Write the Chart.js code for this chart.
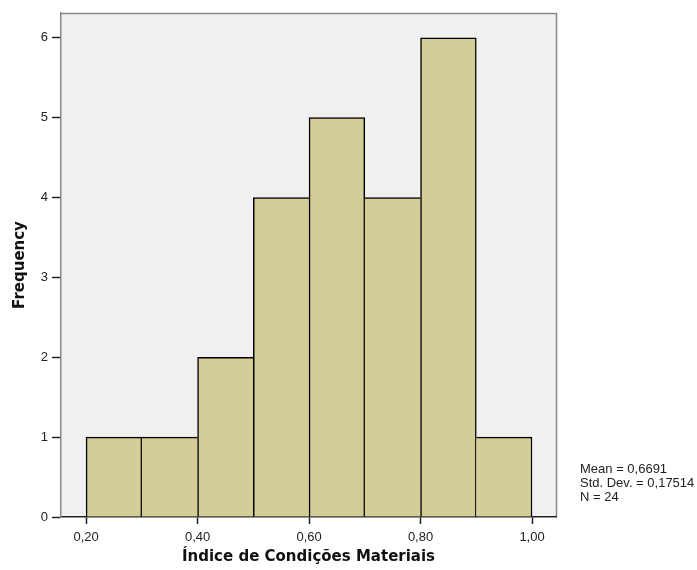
<!DOCTYPE html>
<html>
<head>
<meta charset="utf-8">
<script src="https://cdn.jsdelivr.net/npm/chart.js@4.4.0/dist/chart.umd.min.js"></script>
<style>
  body { margin: 0; background: #fff; }
  #wrap { width: 697px; height: 570px; }
</style>
</head>
<body>
<div id="wrap"><canvas id="hist" width="697" height="570"></canvas></div>
<script>
// bin centres and counts of the histogram
const binCenters = [0.25, 0.35, 0.45, 0.55, 0.65, 0.75, 0.85, 0.95];
const counts = [1, 1, 2, 4, 5, 4, 6, 1];
const xTicks = [0.2, 0.4, 0.6, 0.8, 1.0];
const yTicks = [0, 1, 2, 3, 4, 5, 6];
const statsLines = ['Mean = 0,6691', 'Std. Dev. = 0,17514', 'N = 24'];

const tickFont = {family: '"Liberation Sans", Arial, sans-serif', size: 13};
const titleFont = {family: '"DejaVu Sans", Verdana, sans-serif', size: 15, weight: 'bold'};

// draw each shared edge once, by the taller of the two bars
function barBorder(ctx) {
    const i = ctx.dataIndex;
    const h = counts[i];
    const prev = i > 0 ? counts[i - 1] : -1;
    const next = i < counts.length - 1 ? counts[i + 1] : -1;
    const w = 1.5;
    return {top: w, bottom: 0, left: prev < h ? w : 0, right: next <= h ? w : 0};
}

const framePlugin = {
    id: 'frame',
    beforeDraw(chart) {
        const {ctx, chartArea: a} = chart;
        ctx.save();
        ctx.fillStyle = '#f0f0f0';
        ctx.fillRect(a.left, a.top, a.right - a.left, a.bottom - a.top);
        ctx.strokeStyle = '#888';
        ctx.lineWidth = 1.5;
        ctx.beginPath();
        ctx.moveTo(a.left, a.top + 0.5);
        ctx.lineTo(a.right + 0.5, a.top + 0.5);
        ctx.lineTo(a.right + 0.5, a.bottom);
        ctx.stroke();
        ctx.restore();
    },
    afterDraw(chart) {
        const {ctx} = chart;
        ctx.save();
        ctx.fillStyle = '#222';
        ctx.font = '13px "Liberation Sans", Arial, sans-serif';
        ctx.textBaseline = 'middle';
        statsLines.forEach((t, i) => ctx.fillText(t, 580, 469 + i * 14));
        ctx.restore();
    }
};

new Chart(document.getElementById('hist'), {
    type: 'bar',
    data: {
        datasets: [{
            data: binCenters.map((x, i) => ({x: x, y: counts[i]})),
            backgroundColor: '#d3ce97',
            borderColor: '#000',
            borderWidth: barBorder,
            borderSkipped: false,
            barPercentage: 1,
            categoryPercentage: 1
        }]
    },
    options: {
        responsive: false,
        animation: false,
        layout: {padding: {top: 13, right: 141, left: 0, bottom: 0}},
        plugins: {legend: {display: false}, tooltip: {enabled: false}},
        scales: {
            x: {
                type: 'linear',
                min: 0.155,
                max: 1.043,
                offset: false,
                afterBuildTicks: s => { s.ticks = xTicks.map(v => ({value: v})); },
                afterFit: s => { s.height = 53; },
                ticks: {
                    font: tickFont,
                    color: '#222',
                    padding: 6,
                    maxRotation: 0,
                    callback: v => v.toFixed(2).replace('.', ',')
                },
                grid: {offset: false, drawOnChartArea: false, drawTicks: true, tickLength: 7, color: '#222', tickWidth: 1.5},
                border: {color: '#222', width: 1.5},
                title: {display: true, text: 'Índice de Condições Materiais', font: titleFont, color: '#111', padding: {top: 0, bottom: 4}}
            },
            y: {
                min: 0,
                max: 6.31,
                afterBuildTicks: s => { s.ticks = yTicks.map(v => ({value: v})); },
                afterFit: s => { s.width = 61; },
                ticks: {font: tickFont, color: '#222', padding: 4},
                grid: {drawOnChartArea: false, drawTicks: true, tickLength: 9, color: '#222', tickWidth: 1.5},
                border: {color: '#888', width: 1.5},
                title: {display: true, text: 'Frequency', font: titleFont, color: '#111', padding: {top: 11, bottom: 0}}
            }
        }
    },
    plugins: [framePlugin]
});
</script>
</body>
</html>
